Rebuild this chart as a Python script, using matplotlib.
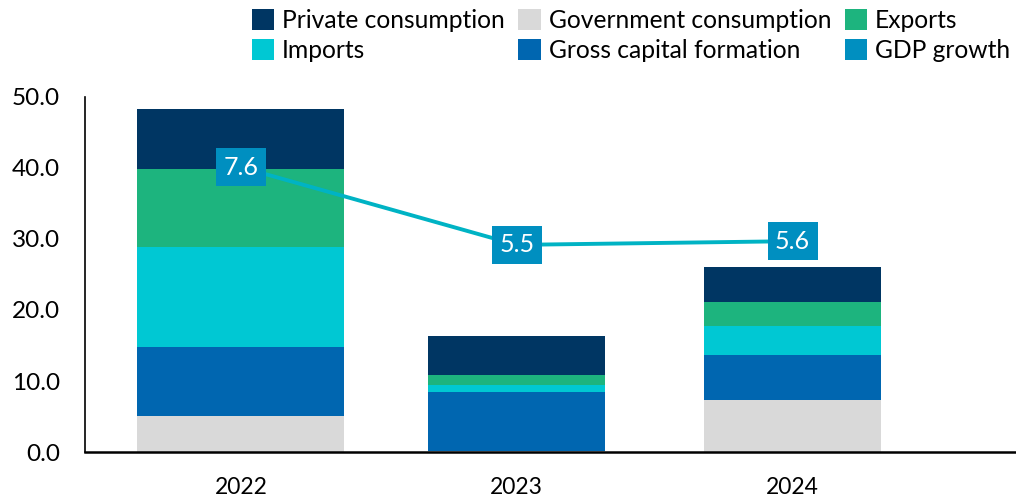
import matplotlib.pyplot as plt
from matplotlib.patches import Patch
import numpy as np

plt.rcParams['font.family'] = ['Lato', 'DejaVu Sans']

years = ['2022', '2023', '2024']
gov_consumption = [5.1, 0.1, 7.3]
gross_capital = [9.7, 8.4, 6.3]
imports = [14.1, 1.0, 4.2]
exports = [11.0, 1.3, 3.3]
private_consumption = [8.4, 5.5, 4.9]
gdp_growth = [7.6, 5.5, 5.6]

colors = {
    'Private consumption': '#003663',
    'Government consumption': '#D9D9D9',
    'Exports': '#1DB47E',
    'Imports': '#00C8D3',
    'Gross capital formation': '#0066B0',
    'GDP growth': '#008FC0',
}
line_color = '#00B3C4'

fig = plt.figure(figsize=(10.16, 4.97), dpi=100)
ax = fig.add_axes([0.0837, 0.0905, 0.9163, 0.7145])

x = np.arange(len(years))
bar_widths = [0.75, 0.64, 0.64]  # first bar is drawn wider in the original
stack = [('Government consumption', gov_consumption),
         ('Gross capital formation', gross_capital),
         ('Imports', imports),
         ('Exports', exports),
         ('Private consumption', private_consumption)]
bottom = np.zeros(len(years))
for name, vals in stack:
    ax.bar(x, vals, bar_widths, bottom=bottom, color=colors[name], zorder=2)
    bottom += np.array(vals)

ax.set_ylim(0, 50)
ax.set_yticks(np.arange(0, 51, 10))
ax.set_yticklabels([f'{v:.1f}' for v in np.arange(0, 51, 10)])
ax.set_xlim(-0.565, 2.81)
ax.set_xticks(x)
ax.set_xticklabels(years)
ax.tick_params(axis='both', length=0, colors='black')
ax.tick_params(axis='x', pad=18, labelsize=16.5)
ax.tick_params(axis='y', pad=18, labelsize=17.5)
for s in ['top', 'right']:
    ax.spines[s].set_visible(False)
ax.spines['left'].set_linewidth(1.2)
ax.spines['bottom'].set_linewidth(1.8)

# GDP growth on a hidden secondary axis
ax2 = ax.twinx()
ax2.plot(x, gdp_growth, color=line_color, lw=2.8, zorder=3)
ax2.set_ylim(-0.1, 9.5)
ax2.axis('off')
for xi, g in zip(x, gdp_growth):
    ax2.text(xi, g, f'{g:.1f}', ha='center', va='center', color='white', fontsize=18,
             bbox=dict(boxstyle='square,pad=0.3', fc=colors['GDP growth'], ec='none'), zorder=4)

order = ['Private consumption', 'Imports', 'Government consumption',
         'Gross capital formation', 'Exports', 'GDP growth']
handles = [Patch(facecolor=colors[n], label=n) for n in order]
fig.legend(handles=handles, ncol=3, loc='upper right', bbox_to_anchor=(0.999, 0.992),
           frameon=False, fontsize=17.7, handlelength=0.9, handleheight=0.95,
           handletextpad=0.33, columnspacing=0.55, labelspacing=0.28, borderaxespad=0.0,
           borderpad=0.2)

fig.savefig('out.png', dpi=100)
